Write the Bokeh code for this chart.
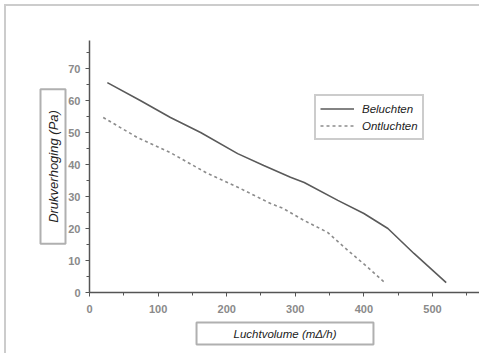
from bokeh.plotting import figure
from bokeh.models import Range1d, Legend, LegendItem, FixedTicker, Title
from bokeh.embed import file_html
from bokeh.resources import INLINE

# Data
beluchten_x = [26, 74, 118, 162, 216, 254, 293, 313, 362, 400, 435, 473, 520]
beluchten_y = [65.6, 60.0, 54.7, 50.0, 43.4, 39.7, 36.0, 34.4, 28.8, 24.7, 20.0, 12.2, 3.1]

ontluchten_x = [20, 70, 118, 172, 220, 264, 282, 313, 347, 377, 406, 432]
ontluchten_y = [54.7, 48.4, 43.7, 37.2, 32.5, 27.8, 26.3, 22.5, 18.8, 13.1, 7.8, 2.8]

x_ticks = [0, 100, 200, 300, 400, 500]
y_ticks = [0, 10, 20, 30, 40, 50, 60, 70]
x_minor = [50, 150, 250, 350, 450, 550]
y_minor = [5, 15, 25, 35, 45, 55, 65, 75]

x_label = "Luchtvolume (mΔ/h)"
y_label = "Drukverhoging (Pa)"
series_names = ["Beluchten", "Ontluchten"]

FONT = "Liberation Sans"
FSIZE = "11.5px"

p = figure(width=475, height=349, output_backend="svg", toolbar_location=None,
           x_range=Range1d(0, 570), y_range=Range1d(0, 78.75),
           min_border_left=83, min_border_right=1, min_border_top=34, min_border_bottom=63)
p.styles = {"border-left": "2px solid #cccccc", "border-top": "2px solid #cccccc",
            "position": "relative", "left": "4px", "top": "4px"}
p.outline_line_color = None
p.xgrid.visible = False
p.ygrid.visible = False
p.background_fill_color = "white"
p.border_fill_color = "white"

for ax, ticks, minor in [(p.xaxis[0], x_ticks, x_minor), (p.yaxis[0], y_ticks, y_minor)]:
    ax.ticker = FixedTicker(ticks=ticks, minor_ticks=minor)
    ax.axis_line_color = "#555555"
    ax.axis_line_width = 1.5
    ax.major_tick_line_color = "#555555"
    ax.minor_tick_line_color = "#555555"
    ax.major_tick_out = 4
    ax.major_tick_in = 0
    ax.minor_tick_out = 3
    ax.minor_tick_in = 0
    ax.major_label_text_color = "#8a8a8a"
    ax.major_label_text_font = "Liberation Sans"
    ax.major_label_text_font_size = "11px"
    ax.major_label_text_font_style = "bold"
p.xaxis.major_label_standoff = 8
p.yaxis.major_label_standoff = 5

r1 = p.line(beluchten_x, beluchten_y, line_color="#5a5a5a", line_width=1.6)
r2 = p.line(ontluchten_x, ontluchten_y, line_color="#8c8c8c", line_width=1.6, line_dash="3 3")

legend = Legend(items=[LegendItem(label=series_names[0], renderers=[r1]),
                       LegendItem(label=series_names[1], renderers=[r2])],
                location=(225, 152))
legend.border_line_color = "#9a9a9a"
legend.border_line_width = 2
legend.background_fill_color = "white"
legend.background_fill_alpha = 1
legend.label_text_font = FONT
legend.label_text_font_style = "italic"
legend.label_text_font_size = FSIZE
legend.label_text_color = "#222222"
legend.glyph_width = 34
legend.glyph_height = 17
legend.label_height = 17
legend.spacing = 0
legend.padding = 4
legend.margin = 0
legend.label_standoff = 8
p.add_layout(legend, "center")

ytitle = Title(text=y_label, align="center", offset=8, standoff=0,
               text_font=FONT, text_font_style="italic", text_font_size="13px",
               text_color="#222222",
               background_fill_color="white", border_line_color="#b0b0b0", border_line_width=2,
               padding=dict(left=21, right=21, top=5, bottom=5))
xtitle = Title(text=x_label, align="center",
               text_font=FONT, text_font_style="italic", text_font_size=FSIZE,
               text_color="#222222",
               background_fill_color="white", border_line_color="#b0b0b0", border_line_width=2,
               padding=dict(left=37, right=37, top=5, bottom=5))
p.add_layout(ytitle, "left")
p.add_layout(xtitle, "below")

open("out.html", "w").write(file_html(p, INLINE))
